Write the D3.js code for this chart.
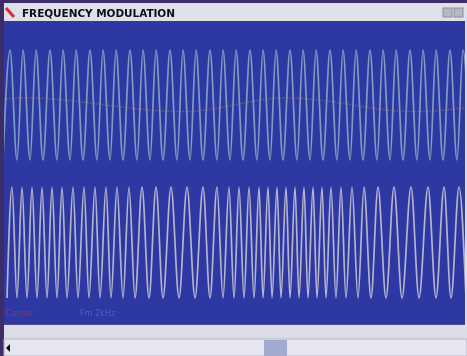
<!DOCTYPE html>
<html>
<head>
<meta charset="utf-8">
<script src="https://cdn.jsdelivr.net/npm/d3@7"></script>
<style>
  html, body { margin: 0; padding: 0; background: #dcdce6; }
  svg { display: block; }
</style>
</head>
<body>
<div id="fm-viewer"></div>
<script>
// extrema (sample positions)
const carrierPeaks = [5, 18, 31, 45, 58, 71, 85, 98, 111, 125, 138, 151, 165, 178, 191, 205, 218, 231,
    245, 258, 271, 285, 298, 311, 325, 338, 351, 365, 378, 391, 405, 418, 431, 445, 458];
const carrierTroughs = [-2, 12, 25, 38, 52, 65, 78, 92, 105, 118, 132, 145, 158, 172, 185, 198, 212, 225,
    238, 252, 265, 278, 292, 305, 318, 332, 345, 358, 372, 385, 398, 412, 425, 438, 452, 465];

const fmPeaks = [7, 17, 27, 37, 47, 57, 68, 79, 90, 101, 112, 124, 137, 151, 166, 182, 198, 212, 224,
    234, 244, 254, 263, 272, 281, 290, 299, 308, 317, 326, 336, 347, 359, 373, 389, 406, 423, 439, 454];
const fmTroughs = [2, 12, 22, 32, 42, 52, 62, 73, 84, 95, 106, 118, 130, 144, 158, 174, 190, 205, 218,
    229, 239, 249, 258, 267, 276, 285, 294, 303, 312, 321, 331, 341, 353, 366, 381, 397, 414, 431, 446, 461];

// faint modulating signal behind the carrier
const modTimes = [-5, 20, 178, 282, 410, 465];
const modValues = [0.10, 0.13, -0.12, 0.13, -0.12, -0.04];

const title = "FREQUENCY MODULATION";
const legendLabels = ["Carrier", "Fm 2kHz"];

const width = 467, height = 356;

const svg = d3.select('#fm-viewer')
    .append('svg')
    .attr("width", width)
    .attr("height", height)
    .attr("style", "font: 10px 'DejaVu Sans', sans-serif;");

// soft blur, the screenshot is a bit smeared
svg.append("filter").attr("id", "soft")
    .append("feGaussianBlur").attr("stdDeviation", 0.55);

// window frame
svg.append("rect").attr("x", 0).attr("y", 0).attr("width", width).attr("height", height).attr("fill", "#dcdce6");
svg.append("rect").attr("x", 0).attr("y", 0).attr("width", width).attr("height", 3).attr("fill", "#3c2c68");
svg.append("rect").attr("x", 0).attr("y", 0).attr("width", 4).attr("height", height).attr("fill", "#3c2c68");
svg.append("rect").attr("x", 4).attr("y", 4).attr("width", width - 4).attr("height", 17).attr("fill", "#e0e0e8");

// title bar
svg.append("path").attr("d", "M6,8 L14,17").attr("stroke", "#d03040").attr("stroke-width", 3);
svg.append("text")
    .attr("x", 22).attr("y", 17)
    .attr("fill", "#101018")
    .attr("font-weight", "bold")
    .attr("font-size", 10.5)
    .attr("textLength", 153)
    .attr("filter", "url(#soft)")
    .text(title);
svg.selectAll("winbtn")
    .data([443, 454])
    .enter()
    .append("rect")
    .attr("x", d => d).attr("y", 8).attr("width", 9).attr("height", 9)
    .attr("fill", "#b8b8c4").attr("stroke", "#8c8c9c");

// plot area
const plot = {left: 4, top: 21, right: 465, bottom: 324};
svg.append("rect")
    .attr("x", plot.left).attr("y", plot.top)
    .attr("width", plot.right - plot.left).attr("height", plot.bottom - plot.top)
    .attr("fill", "#2e38a2");
svg.append("line")
    .attr("x1", plot.left).attr("x2", plot.right)
    .attr("y1", plot.bottom + 0.5).attr("y2", plot.bottom + 0.5)
    .attr("stroke", "#5a4c8c");

svg.append("clipPath").attr("id", "clip")
    .append("rect")
    .attr("x", plot.left).attr("y", plot.top)
    .attr("width", plot.right - plot.left).attr("height", plot.bottom - plot.top);

const x = d3.scaleLinear().domain([0, 460]).range([5, 465]);
const yTop = d3.scaleLinear().domain([-1, 1]).range([160, 50]);
const yBot = d3.scaleLinear().domain([-1, 1]).range([298, 187]);

const extrema = (peaks, troughs) => peaks.map(t => [t, 1])
    .concat(troughs.map(t => [t, -1]))
    .sort((a, b) => a[0] - b[0]);

const group = svg.append("g").attr("clip-path", "url(#clip)")
    .append("g").attr("filter", "url(#soft)");

// modulating signal, very faint
group.append("path")
    .datum(modTimes.map((t, i) => [t, modValues[i]]))
    .attr("fill", "none")
    .attr("stroke", "#9a6a6a")
    .attr("stroke-opacity", 0.5)
    .attr("stroke-width", 1.5)
    .attr("stroke-dasharray", "2,1")
    .attr("d", d3.line().x(d => x(d[0])).y(d => yTop(d[1])).curve(d3.curveMonotoneX));

// carrier
group.append("path")
    .datum(extrema(carrierPeaks, carrierTroughs))
    .attr("fill", "none")
    .attr("stroke", "#7e9cc0")
    .attr("stroke-width", 1.7)
    .attr("d", d3.line().x(d => x(d[0])).y(d => yTop(d[1])).curve(d3.curveMonotoneX));

// FM signal
group.append("path")
    .datum(extrema(fmPeaks, fmTroughs))
    .attr("fill", "none")
    .attr("stroke", "#b4b4ca")
    .attr("stroke-width", 1.7)
    .attr("d", d3.line().x(d => x(d[0])).y(d => yBot(d[1])).curve(d3.curveMonotoneX));

// legend text at the bottom of the plot
svg.selectAll("legend")
    .data(legendLabels)
    .enter()
    .append("text")
    .attr("x", (d, i) => i ? 80 : 6)
    .attr("y", 316)
    .attr("font-size", 8)
    .attr("fill", (d, i) => i ? "#4e5cb8" : "#9a3060")
    .attr("filter", "url(#soft)")
    .text(d => d);

// scrollbar
svg.append("rect").attr("x", 4).attr("y", 339).attr("width", width - 4).attr("height", 17)
    .attr("fill", "#e6e6ee").attr("stroke", "#b4b4c4");
svg.append("path").attr("d", "M6,348 L10,344 L10,352 Z").attr("fill", "#101018");
svg.append("rect").attr("x", 264).attr("y", 340).attr("width", 23).attr("height", 16).attr("fill", "#a2aad0");
</script>
</body>
</html>
